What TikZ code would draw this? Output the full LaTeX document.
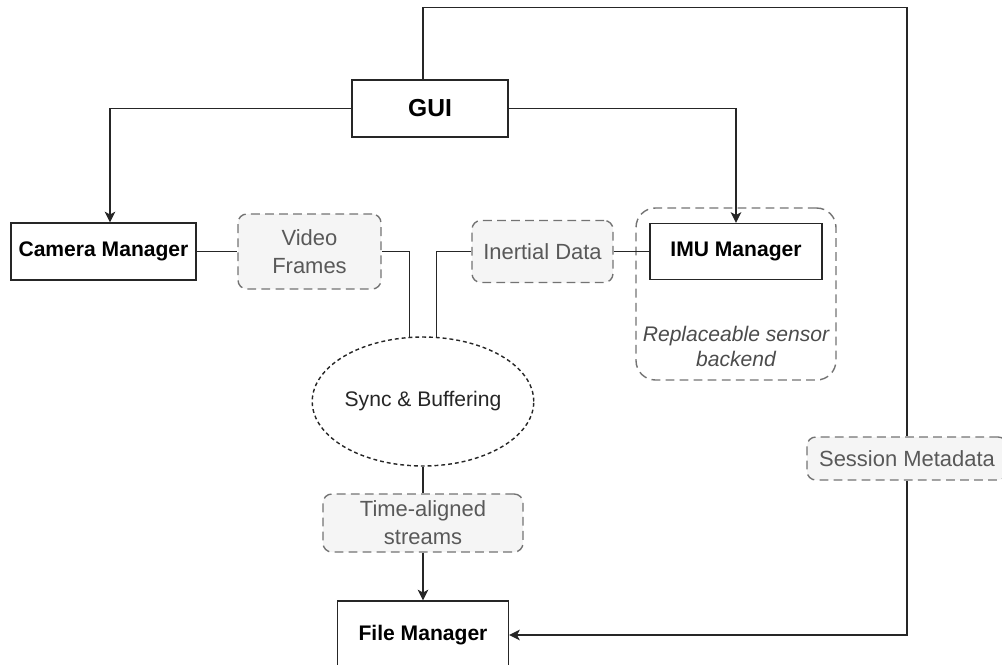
\documentclass[tikz,border=0pt]{standalone}
\usepackage{fontspec}
\setmainfont{Liberation Sans}
\usetikzlibrary{arrows.meta,shapes.geometric}

\begin{document}
\begin{tikzpicture}[x=0.02cm, y=-0.02cm, line width=0.8pt,
  box/.style={draw=black!85, fill=white, inner sep=0pt, font=\fontsize{12}{14}\selectfont\bfseries},
  tag/.style={draw=black!55, fill=black!4, dash pattern=on 5pt off 3pt, rounded corners=5pt, inner sep=0pt, align=center, text=black!65, font=\fontsize{12.5}{16}\selectfont},
  link/.style={draw=black!85},
  arr/.style={link, -{Stealth[length=6pt, width=6pt, inset=1.5pt]}}]

\useasboundingbox (0,0) rectangle (1002,664);

% sensor group
\node[draw=black!55, dash pattern=on 5pt off 3pt, rounded corners=11pt, minimum width=4cm, minimum height=3.44cm] (grp) at (736,294) {};
\node[align=center, text=black!70, font=\fontsize{12}{14.2}\selectfont\itshape] (note) at (736,346.5) {Replaceable sensor\\backend};

\node[box, minimum width=3.12cm, minimum height=1.14cm, font=\fontsize{14}{16}\selectfont\bfseries] (gui) at (430,108.5) {GUI};
\node[box, minimum width=3.7cm, minimum height=1.14cm] (cam) at (103.5,251.5) {Camera Manager};
\node[box, minimum width=3.44cm, minimum height=1.12cm] (imu) at (736,251.5) {IMU Manager};
\node[box, minimum width=3.42cm, minimum height=1.36cm] (fm) at (423,635) {File Manager};

\node[tag, minimum width=2.86cm, minimum height=1.5cm] (vid) at (309.5,251.5) {Video\\Frames};
\node[tag, minimum width=2.82cm, minimum height=1.24cm] (ine) at (542.5,251.5) {Inertial Data};
\node[tag, minimum width=4cm, minimum height=1.16cm] (tas) at (423,523) {Time-aligned\\streams};
\node[tag, minimum width=4cm, minimum height=0.86cm] (ses) at (907,458.5) {Session Metadata};

\node[ellipse, draw=black!85, dash pattern=on 2.2pt off 1.7pt, minimum width=4cm, minimum height=2.58cm, inner sep=0pt, text=black!85, font=\fontsize{12}{14}\selectfont] (sync) at (423,401.5) {Sync \& Buffering};

\draw[arr] (gui.west) -| ([xshift=0.13cm]cam.north);
\draw[arr] (gui.east) -| (imu.north);
\draw[link] ([xshift=-0.14cm]gui.north) -- ++(0,-72) -| (ses.north);
\draw[arr] (ses.south) |- (fm.east);

\draw[link] (cam) -- (vid);
\draw[link] (vid.east) -| (sync.102);
\draw[link] (ine.west) -| (sync.78);
\draw[link] (ine) -- (imu);
\draw[link] (sync) -- (tas);
\draw[arr] (tas) -- (fm);

\end{tikzpicture}
\end{document}
